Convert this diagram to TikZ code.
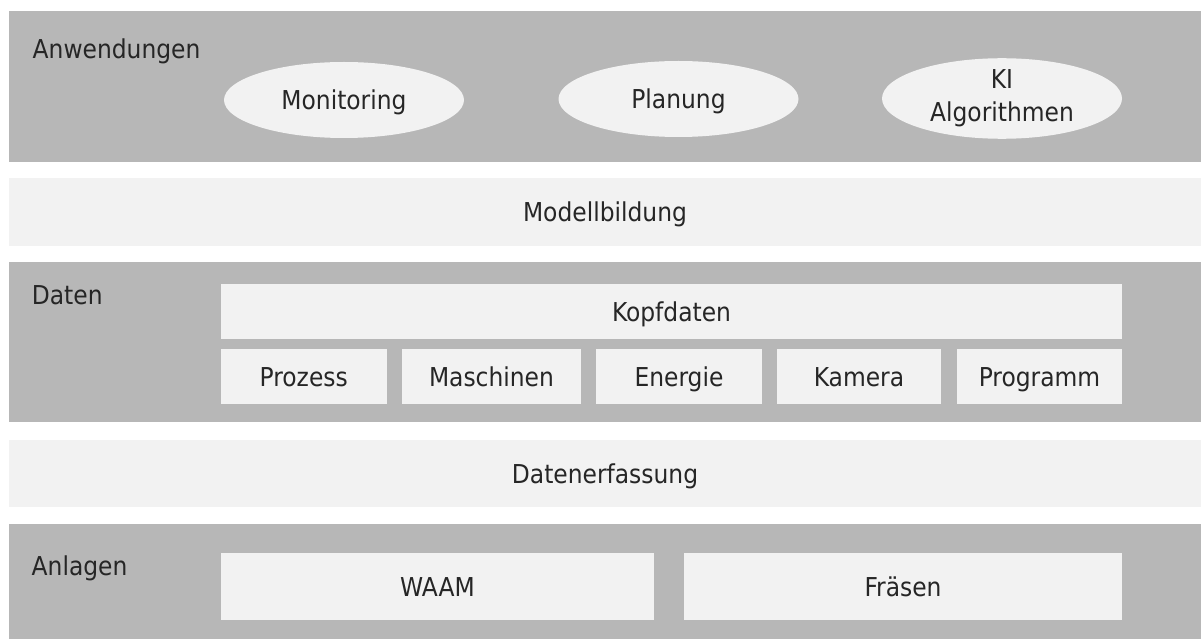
\documentclass[tikz,border=0pt]{standalone}
\usepackage{fontspec}
\setmainfont{DejaVu Sans Condensed}
\usetikzlibrary{shapes.geometric}
\definecolor{banddark}{RGB}{183,183,183}
\definecolor{bandlight}{RGB}{242,242,242}
\definecolor{ink}{RGB}{38,38,38}
\tikzset{
  layer/.style={rectangle, inner sep=0pt, draw=none, minimum width=1192pt},
  darklayer/.style={layer, fill=banddark},
  lightlayer/.style={layer, fill=bandlight, text=ink, font=\fontsize{26}{31}\selectfont,
    text height=19pt, text depth=0pt},
  cell/.style={rectangle, inner sep=0pt, fill=bandlight, text=ink,
    font=\fontsize{26}{31}\selectfont, text height=19pt, text depth=0pt},
  bubble/.style={ellipse, inner sep=0pt, fill=bandlight, text=ink,
    minimum width=240pt, minimum height=76pt, font=\fontsize{26}{32.6}\selectfont},
  caption/.style={anchor=base west, inner sep=0pt, text=ink, font=\fontsize{26}{31}\selectfont}
}
\begin{document}
\begin{tikzpicture}[x=1pt, y=-1pt]
  \useasboundingbox (0,0) rectangle (1201,639);

  % layers
  \node[darklayer, minimum height=151pt] (apps) at (605,86.5) {};
  \node[lightlayer, minimum height=67.7pt] (model) at (605,211.85) {Modellbildung};
  \node[darklayer, minimum height=160pt] (data) at (605,342) {};
  \node[lightlayer, minimum height=67.6pt] (capture) at (605,473.5) {Datenerfassung};
  \node[darklayer, minimum height=114.7pt] (plants) at (605,581.65) {};

  % layer captions
  \node[caption] (appslbl) at (32.5,58.3) {Anwendungen};
  \node[caption] (datalbl) at (31.7,304.3) {Daten};
  \node[caption] (plantslbl) at (31.5,575) {Anlagen};

  % applications
  \node[bubble, text height=19pt, text depth=0pt] (mon) at (344,100) {Monitoring};
  \node[bubble, text height=19pt, text depth=0pt] (plan) at (678.5,99) {Planung};
  \node[bubble, align=center] (ki) at (1002,98.5) {KI\\Algorithmen};

  % data
  \node[cell, minimum width=901pt, minimum height=54.4pt] (head) at (671.5,311.5) {Kopfdaten};
  \node[cell, minimum width=165.5pt, minimum height=54.4pt] (proc) at (303.75,376.5) {Prozess};
  \node[cell, minimum width=179pt, minimum height=54.4pt] (mach) at (491.5,376.5) {Maschinen};
  \node[cell, minimum width=166pt, minimum height=54.4pt] (energy) at (679,376.5) {Energie};
  \node[cell, minimum width=164pt, minimum height=54.4pt] (cam) at (859,376.5) {Kamera};
  \node[cell, minimum width=165pt, minimum height=54.4pt] (prog) at (1039.5,376.5) {Programm};

  % plants
  \node[cell, minimum width=433pt, minimum height=67pt] (waam) at (437.5,586.8) {WAAM};
  \node[cell, minimum width=438pt, minimum height=67pt] (mill) at (903,586.8) {Fräsen};
\end{tikzpicture}
\end{document}
